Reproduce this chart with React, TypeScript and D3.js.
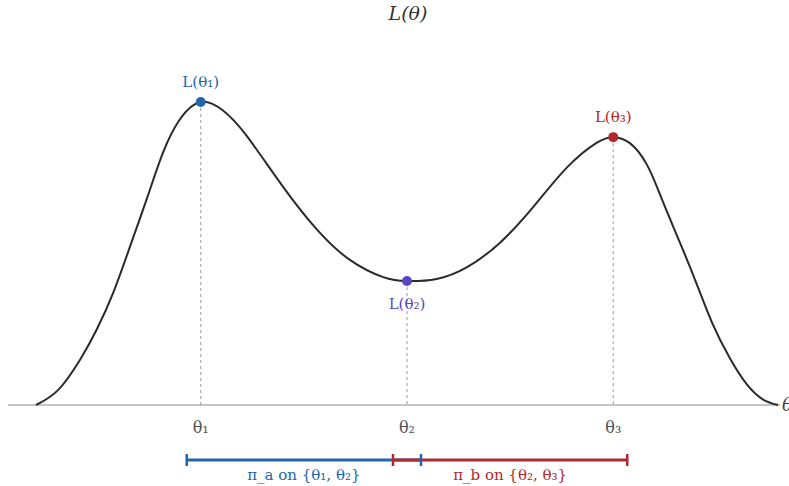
import React from "react";
import * as d3 from "d3";

// Likelihood curve sampled along θ (arbitrary units 0..100)
const thetaSamples = [0, 3, 6, 8.2, 10.4, 12.7, 15, 17.1, 19.4, 22.2, 25.2, 28.4, 33.3, 37.9, 42.3, 46.8, 50, 54, 58.1, 62.5, 67, 71.6, 75.6, 77.8, 80, 82.4, 84.5, 86.8, 89.1, 91.2, 93.5, 95.8, 98, 100];
const likelihoodSamples = [0, 0.05, 0.152, 0.25, 0.37, 0.525, 0.685, 0.832, 0.943, 1.0, 0.972, 0.888, 0.72, 0.578, 0.479, 0.422, 0.409, 0.416, 0.455, 0.535, 0.653, 0.785, 0.866, 0.884, 0.865, 0.79, 0.67, 0.535, 0.396, 0.267, 0.155, 0.068, 0.018, 0];

// Marked parameter values
const markNames = ["θ₁", "θ₂", "θ₃"];
const markTheta = [22.2, 50, 77.8];
const markL = [1.0, 0.409, 0.884];
const markLabels = ["L(θ₁)", "L(θ₂)", "L(θ₃)"];
const markColors = ["#2166ac", "#5548c0", "#b2282e"];

// Policy supports
const policyLabels = ["π_a on {θ₁, θ₂}", "π_b on {θ₂, θ₃}"];
const policyFrom = [0, 1];
const policyTo = [1, 2];
const policyColors = ["#2166ac", "#b2282e"];

const W = 789;
const H = 486;
const FONT = "'DejaVu Serif', serif";

export default function App() {
  const x = d3.scaleLinear().domain([0, 100]).range([36, 778]);
  const y = d3.scaleLinear().domain([0, 1]).range([405, 102]);

  const pts: [number, number][] = thetaSamples.map((t, i) => [t, likelihoodSamples[i]]);
  const line = d3
    .line<[number, number]>()
    .x((d) => x(d[0]))
    .y((d) => y(d[1]))
    .curve(d3.curveNatural);

  const barY = 460;
  const pad = 14;
  const bars = policyLabels.map((lab, i) => ({
    lab,
    color: policyColors[i],
    x0: x(markTheta[policyFrom[i]]) - pad,
    x1: x(markTheta[policyTo[i]]) + pad,
  }));

  const labelOffsets = [-15, 28, -15];

  return (
    <svg
      width={W}
      height={H}
      style={{ position: "absolute", left: 0, top: 0, display: "block", background: "#fff" }}
    >
      <text x={408} y={20} textAnchor="middle" fontFamily={FONT} fontStyle="italic" fontSize={19} fill="#333">
        L(θ)
      </text>

      {/* θ axis */}
      <line x1={8} x2={780} y1={y(0)} y2={y(0)} stroke="#8a8a8a" strokeWidth={1} />
      <text x={782} y={y(0) + 6} fontFamily={FONT} fontStyle="italic" fontSize={18} fill="#444">
        θ
      </text>

      {/* guides from each mark down to the axis */}
      {markTheta.map((t, i) => (
        <line
          key={"g" + i}
          x1={x(t)}
          x2={x(t)}
          y1={y(markL[i])}
          y2={y(0)}
          stroke="#9a9a9a"
          strokeWidth={1}
          strokeDasharray="3,3"
        />
      ))}

      <path d={line(pts) || ""} fill="none" stroke="#2a2a2a" strokeWidth={2} />

      {markTheta.map((t, i) => (
        <g key={"m" + i}>
          <circle cx={x(t)} cy={y(markL[i])} r={5} fill={markColors[i]} />
          <text
            x={x(t)}
            y={y(markL[i]) + labelOffsets[i]}
            textAnchor="middle"
            fontFamily={FONT}
            fontSize={15}
            fill={markColors[i]}
          >
            {markLabels[i]}
          </text>
          <text x={x(t)} y={433} textAnchor="middle" fontFamily={FONT} fontSize={16} fill="#555">
            {markNames[i]}
          </text>
        </g>
      ))}

      {/* policy support bars */}
      {bars.map((b, i) => (
        <line key={"bl" + i} x1={b.x0} x2={b.x1} y1={barY} y2={barY} stroke={b.color} strokeWidth={3} />
      ))}
      {bars.map((b, i) => (
        <g key={"bt" + i}>
          <line x1={b.x0} x2={b.x0} y1={barY - 6} y2={barY + 6} stroke={b.color} strokeWidth={2.5} />
          <line x1={b.x1} x2={b.x1} y1={barY - 6} y2={barY + 6} stroke={b.color} strokeWidth={2.5} />
          <text x={(b.x0 + b.x1) / 2} y={480} textAnchor="middle" fontFamily={FONT} fontSize={15} fill={b.color}>
            {b.lab}
          </text>
        </g>
      ))}
    </svg>
  );
}
